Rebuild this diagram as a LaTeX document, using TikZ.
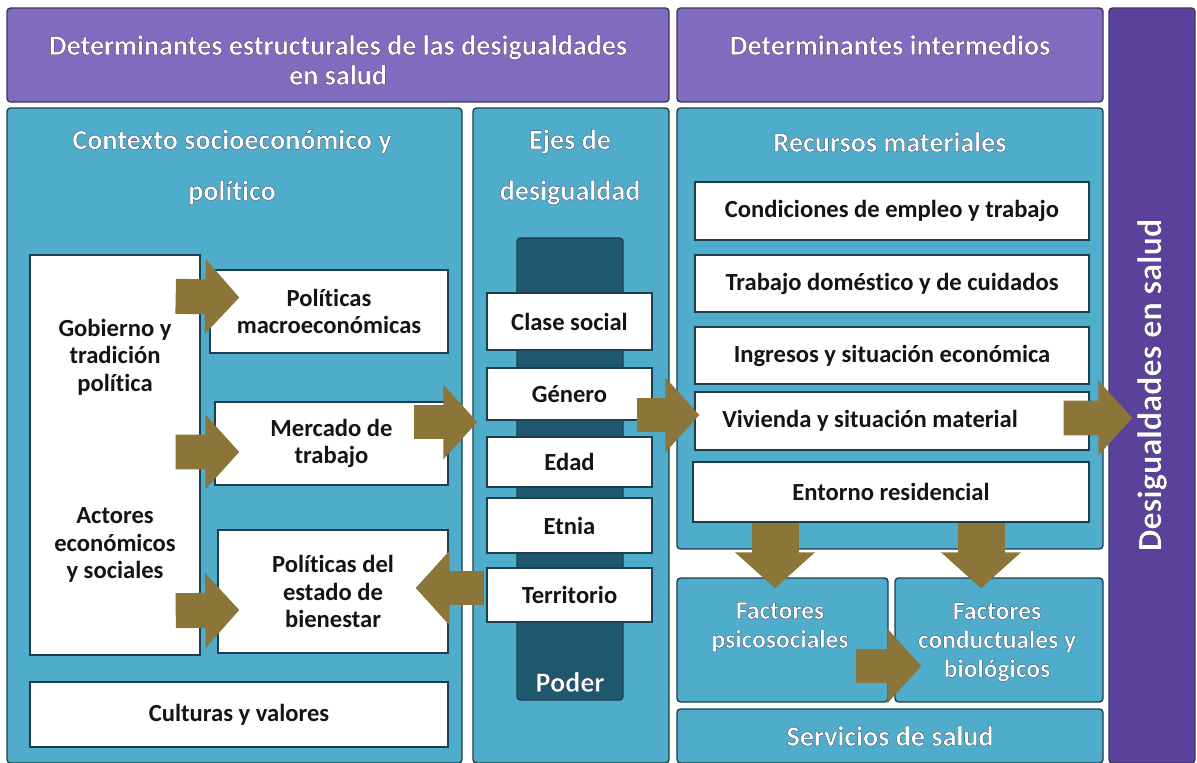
\documentclass[tikz,border=0pt]{standalone}
\usepackage{fontspec}
\setmainfont{Carlito}[Ligatures=CommonOff]
\usetikzlibrary{arrows.meta,calc}
\definecolor{lila}{RGB}{127,108,190}
\definecolor{lilaosc}{RGB}{90,66,156}
\definecolor{azul}{RGB}{80,172,203}
\definecolor{petroleo}{RGB}{31,88,110}
\definecolor{oliva}{RGB}{140,117,56}
\definecolor{borde}{RGB}{28,62,78}
\definecolor{tinta}{RGB}{20,20,20}
% white text with a thin dark edge
\newcommand{\outl}[1]{\special{pdf:literal direct 0.08 0.1 0.22 RG 0.12 w 1 j 2 Tr}#1\special{pdf:literal direct 0 Tr}}
\newcommand{\caja}[7]{
	\node[#1, minimum width={(#5-#3)*0.02cm}, minimum height={(#6-#4)*0.02cm}] (#2) at ({(#3+#5)/2},{(#4+#6)/2}) {#7};
}
\tikzstyle{panel}=[draw=borde, fill=azul, line width=0.8pt, rounded corners=2pt, inner sep=0pt]
\tikzstyle{header}=[panel, fill=lila, draw=lila!50!black]
\tikzstyle{wbox}=[draw=borde, fill=white, line width=0.8pt, inner sep=0pt, align=center, text=tinta, font=\fontsize{14}{15.6}\selectfont\bfseries]
\tikzstyle{btxt}=[align=center, text=tinta, font=\fontsize{14}{15.6}\selectfont\bfseries]
\tikzstyle{htxt}=[align=center, text=white, font=\fontsize{16}{17}\selectfont\bfseries]
\tikzstyle{ptxt}=[align=center, text=white, font=\fontsize{16}{29}\selectfont\bfseries]
\tikzstyle{ftxt}=[align=center, text=white, font=\fontsize{14.5}{16.5}\selectfont\bfseries]
\tikzstyle{fatarrow}=[draw=oliva, line width=0.7cm, -{Triangle[length=0.68cm,width=1.46cm]}]
\tikzstyle{downarrow}=[draw=oliva, line width=0.94cm, -{Triangle[length=0.72cm,width=1.56cm]}]

\begin{document}
\begin{tikzpicture}[x=0.02cm, y=-0.02cm]
	\useasboundingbox[fill=white] (0,0) rectangle (1197,763);
%
	\caja{header}{hdest}{7}{8}{669}{102}{}
	\caja{header}{hdint}{677}{8}{1103}{102}{}
	\caja{header, fill=lilaosc}{hdsal}{1109}{8}{1195}{763}{}
%
	\caja{panel}{ctx}{7}{108}{462}{763}{}
	\caja{panel}{ejes}{473}{108}{669}{763}{}
	\caja{panel}{rec}{677}{108}{1103}{549}{}
	\caja{panel}{psi}{677}{578}{888}{702}{}
	\caja{panel}{cond}{895}{578}{1103}{702}{}
	\caja{panel}{serv}{677}{709}{1103}{763}{}
	\caja{panel, fill=petroleo}{poder}{517}{238}{623}{700}{}
%
	\caja{wbox}{gob}{30}{255}{200}{655}{}
	\caja{wbox}{mac}{210}{270}{448}{353}{Políticas\\macroeconómicas}
	\caja{wbox}{mer}{215}{402}{448}{485}{Mercado de\\trabajo}
	\caja{wbox}{bien}{218}{530}{448}{653}{Políticas del\\estado de\\bienestar}
	\caja{wbox}{cult}{30}{682}{448}{747}{Culturas y valores}
%
	\caja{wbox}{clase}{487}{293}{652}{350}{Clase social}
	\caja{wbox}{gen}{487}{368}{652}{420}{Género}
	\caja{wbox}{edad}{487}{437}{652}{487}{Edad}
	\caja{wbox}{etnia}{487}{498}{652}{553}{Etnia}
	\caja{wbox}{terr}{487}{568}{652}{622}{Territorio}
%
	\caja{wbox}{emp}{695}{182}{1089}{240}{Condiciones de empleo y trabajo}
	\caja{wbox}{dom}{695}{255}{1089}{312}{Trabajo doméstico y de cuidados}
	\caja{wbox}{ing}{695}{327}{1089}{384}{Ingresos y situación económica}
	\caja{wbox}{viv}{695}{392}{1089}{450}{}
	\caja{wbox}{ent}{693}{462}{1089}{522}{Entorno residencial}
%
	\draw[fatarrow] ($(gob.north east)+(-25,42)$) -- ($(mac.west)+(30,-14)$);
	\draw[fatarrow] ($(gob.east)+(-25,-3)$) -- ($(mer.west)+(25,8.5)$);
	\draw[fatarrow] ($(gob.south east)+(-25,-45)$) -- ($(bien.west)+(22,18.5)$);
	\draw[fatarrow] ($(mer.east)+(-35,-21.5)$) -- ($(gen.west)+(-9,28)$);
	\draw[fatarrow] ($(terr.west)+(-2,-7)$) -- ($(bien.east)+(-33,-3.5)$);
	\draw[fatarrow] ($(gen.east)+(-16,21)$) -- ($(viv.west)+(5,-6)$);
	\draw[fatarrow] ($(viv.east)+(-26,-3)$) -- ($(hdsal.west)+(24,32.5)$);
	\draw[downarrow] ($(ent.south)+(-116,0)$) -- ($(psi.north)+(-7.5,11)$);
	\draw[downarrow] ($(ent.south)+(90,0)$) -- ($(cond.north)+(-18,11)$);
	\draw[fatarrow] ($(psi.east)+(-33,26)$) -- ($(cond.west)+(27,26)$);
%
	\node[htxt] (tdest) at (338,60) {\outl{Determinantes estructurales de las desigualdades}\\\outl{en salud}};
	\node[htxt] (tint) at (890,45) {\outl{Determinantes intermedios}};
	\node[htxt, rotate=90, font=\fontsize{19.5}{22}\selectfont\bfseries] (tsal) at (1152,385) {\outl{Desigualdades en salud}};
	\node[ptxt] (tctx) at (232,167) {\outl{Contexto socioeconómico y}\\\outl{político}};
	\node[ptxt] (tejes) at (570,167) {\outl{Ejes de}\\\outl{desigualdad}};
	\node[ptxt] (trec) at (890,142) {\outl{Recursos materiales}};
	\node[ftxt, font=\fontsize{16}{18}\selectfont\bfseries] (tpoder) at (570,682) {\outl{Poder}};
	\node[btxt] (tgob) at (115,357) {Gobierno y\\tradición\\política};
	\node[btxt] (tact) at (115,545) {Actores\\económicos\\y sociales};
	\node[btxt] (tviv) at (870,421) {Vivienda y situación material};
	\node[ftxt] (tpsi) at (780,627) {\outl{Factores}\\\outl{psicosociales}};
	\node[ftxt] (tcond) at (997,642) {\outl{Factores}\\\outl{conductuales y}\\\outl{biológicos}};
	\node[ptxt] (tserv) at (serv) {\outl{Servicios de salud}};
\end{tikzpicture}
\end{document}
